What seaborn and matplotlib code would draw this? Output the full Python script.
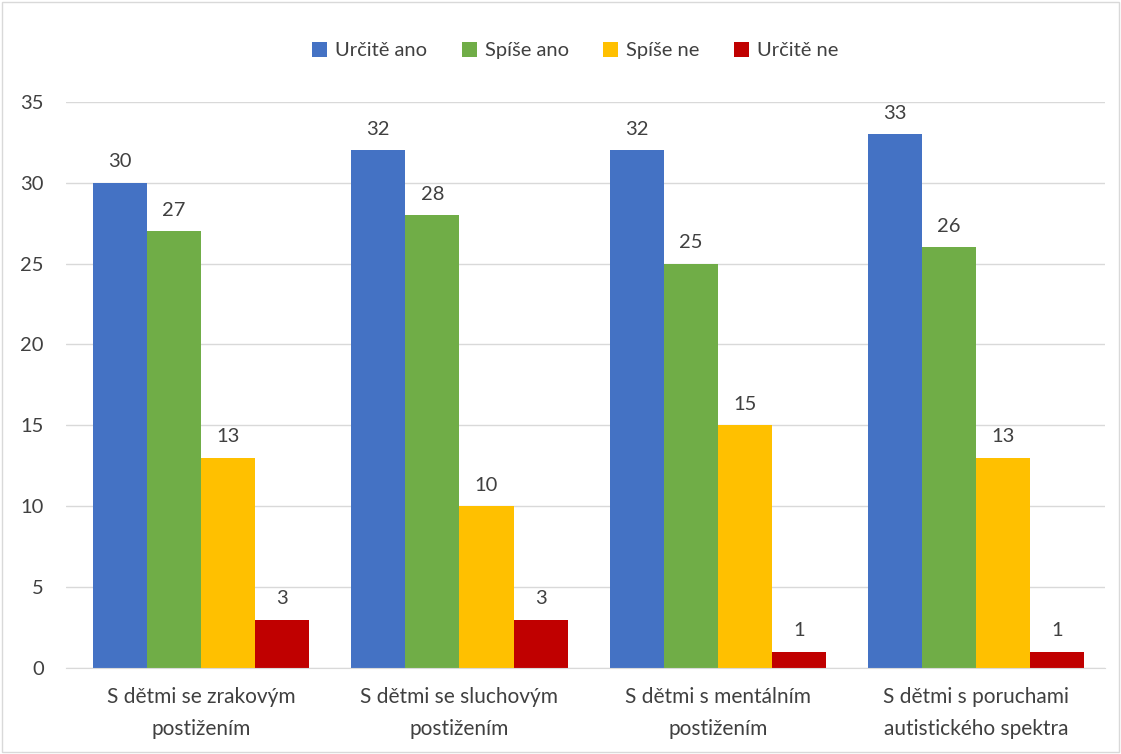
import pandas as pd
import matplotlib
matplotlib.use("Agg")
from matplotlib import pyplot as plt
import seaborn as sns

categories = ["S dětmi se zrakovým\npostižením",
              "S dětmi se sluchovým\npostižením",
              "S dětmi s mentálním\npostižením",
              "S dětmi s poruchami\nautistického spektra"]
answers = ["Určitě ano", "Spíše ano", "Spíše ne", "Určitě ne"]
urcite_ano = [30, 32, 32, 33]
spise_ano = [27, 28, 25, 26]
spise_ne = [13, 10, 15, 13]
urcite_ne = [3, 3, 1, 1]
colors = ["#4472C4", "#70AD47", "#FFC000", "#C00000"]

rows = []
for series, name in zip([urcite_ano, spise_ano, spise_ne, urcite_ne], answers):
    for cat, v in zip(categories, series):
        rows.append({"kategorie": cat, "odpoved": name, "pocet": v})
df = pd.DataFrame(rows)

sns.set_style("white")
plt.rcParams["font.family"] = ["Lato", "DejaVu Sans"]

fig = plt.figure(figsize=(11.21, 7.54), dpi=100)
ax = fig.add_axes([0.0589, 0.114, 0.927, 0.751])

sns.barplot(data=df, x="kategorie", y="pocet", hue="odpoved",
            hue_order=answers, palette=colors, width=0.838,
            saturation=1, linewidth=0, ax=ax, legend=True)

for cont in ax.containers:
    ax.bar_label(cont, padding=9, fontsize=14.5, color="#404040")

ax.set_xlim(-0.523, 3.5)
ax.set_ylim(0, 35)
ax.set_yticks(range(0, 36, 5))
ax.yaxis.grid(True, color="#D9D9D9", linewidth=1)
ax.set_axisbelow(True)
ax.set_xlabel("")
ax.set_ylabel("")
ax.tick_params(axis="both", labelsize=14.5, colors="#404040", length=0)
ax.tick_params(axis="y", pad=16)
ax.tick_params(axis="x", labelsize=15, pad=14)
for lbl in ax.get_xticklabels():
    lbl.set_linespacing(1.75)
for s in ["left", "right", "top"]:
    ax.spines[s].set_visible(False)
ax.spines["bottom"].set_color("#D9D9D9")

ax.legend(loc="upper center", bbox_to_anchor=(0.49, 1.138), ncol=4,
          frameon=False, fontsize=14.5, handlelength=0.75, handleheight=0.75,
          columnspacing=1.7, handletextpad=0.4, labelcolor="#404040")

fig.patches.append(plt.Rectangle((0.002, 0.002), 0.996, 0.996,
                                 transform=fig.transFigure, fill=False,
                                 edgecolor="#D9D9D9", linewidth=1))

fig.savefig("out.png", dpi=100)
